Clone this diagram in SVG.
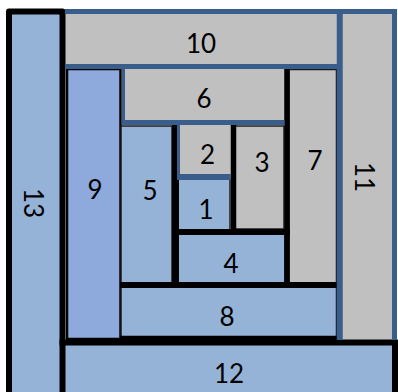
<svg xmlns="http://www.w3.org/2000/svg" width="398" height="392" viewBox="0 0 398 392">
<style>
.lb{fill:#95B3D7}
.db{fill:#8EA9DB}
.gr{fill:#C0C0C0}
.th{stroke:#1a1a1a;stroke-width:1.5}
.bk{stroke:#000;fill:none}
.bl{stroke:#3A5E8C;fill:none}
text{font-family:Lato,"Liberation Sans",sans-serif;font-size:26px;fill:#000;text-anchor:middle}
</style>
<rect width="398" height="392" fill="#fff"/>
<g id="node13"><rect class="lb" x="9" y="11.5" width="53.5" height="400"/><text transform="translate(33,203) rotate(90)" y="9.3">13</text></g>
<g id="node12"><rect class="lb" x="62" y="342" width="334" height="60"/><text x="229" y="383">12</text></g>
<g id="node11"><rect class="gr" x="339" y="11" width="56" height="332"/><text transform="translate(364,177) rotate(90)" y="9.3">11</text></g>
<g id="node10"><rect class="gr" x="62" y="11" width="278" height="58"/><text x="201" y="53">10</text></g>
<g id="node9"><rect class="db" x="67" y="69" width="53.5" height="270" stroke="#000" stroke-width="2.5"/><text x="95" y="199">9</text></g>
<g id="node8"><rect class="lb th" x="121" y="287" width="215.5" height="50"/><text x="227" y="326">8</text></g>
<g id="node7"><rect class="gr th" x="289" y="69.5" width="47.5" height="214"/><text x="315" y="170">7</text></g>
<g id="node6"><rect class="gr" x="122" y="66" width="166" height="58"/><text x="204" y="108">6</text></g>
<g id="node5"><rect class="lb th" x="121" y="126" width="51" height="157"/><text x="150" y="200">5</text></g>
<g id="node4"><rect class="lb th" x="178" y="234" width="107" height="49"/><text x="231" y="273">4</text></g>
<g id="node3"><rect class="gr th" x="235" y="126" width="49" height="103"/><text x="262" y="171.5">3</text></g>
<g id="node2"><rect class="gr" x="177" y="122" width="57" height="57"/><text x="207.5" y="164">2</text></g>
<g id="node1"><rect class="lb th" x="178" y="179" width="52" height="51"/><text x="206" y="219">1</text></g>
<g id="borders">
<rect class="bk" x="9" y="11.5" width="53.5" height="400" stroke-width="6" stroke-linejoin="round"/>
<path class="bk" d="M59.5,342.5H395V395" stroke-width="6"/>
<path class="bk" d="M120,338H337.5" stroke-width="4.5"/>
<path class="bk" d="M120,285H337.5" stroke-width="6"/>
<path class="bk" d="M287,69V288" stroke-width="5.5"/>
<path class="bk" d="M233.5,125V235" stroke-width="5.5"/>
<path class="bk" d="M172,232H290" stroke-width="6"/>
<path class="bk" d="M175.5,125V288" stroke-width="7"/>
<path class="bl" d="M65,11.5H394.5V340" stroke-width="5"/>
<path class="bl" d="M339.75,9V340" stroke-width="6"/>
<path class="bl" d="M65,66.5H339.5" stroke-width="5"/>
<path class="bl" d="M123.5,66V125" stroke-width="3"/>
<path class="bl" d="M122,122.5H284.3" stroke-width="5"/>
<path class="bl" d="M178.5,122V180" stroke-width="3"/>
<path class="bl" d="M177,177H230.7" stroke-width="6"/>
</g>
</svg>
